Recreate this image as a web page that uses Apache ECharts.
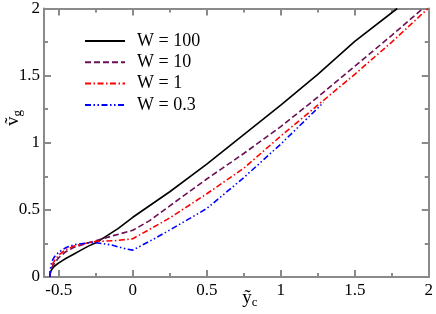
<!DOCTYPE html>
<html>
<head>
<meta charset="utf-8">
<script src="https://cdn.jsdelivr.net/npm/echarts@6/dist/echarts.min.js"></script>
<style>
html,body{margin:0;padding:0;background:#fff;}
#c{width:436px;height:314px;}
</style>
</head>
<body>
<div id="c"></div>
<script>
// ---- data ----
const seriesNames = ['W = 100', 'W = 10', 'W = 1', 'W = 0.3'];

const x100 = [-0.56, -0.559, -0.557, -0.553, -0.545, -0.53, -0.5, -0.45, -0.4, -0.35, -0.3, -0.25, -0.2, -0.1, 0, 0.25, 0.5, 0.75, 1.0, 1.25, 1.5, 1.787];
const y100 = [0, 0.015, 0.03, 0.045, 0.06, 0.08, 0.105, 0.14, 0.17, 0.2, 0.23, 0.255, 0.29, 0.36, 0.445, 0.635, 0.84, 1.06, 1.28, 1.51, 1.755, 2.0];

const x10 = [-0.56, -0.559, -0.557, -0.55, -0.54, -0.53, -0.5, -0.45, -0.4, -0.3, -0.25, -0.125, 0, 0.114, 0.25, 0.5, 0.75, 1.0, 1.25, 1.5, 1.75, 1.96];
const y10 = [0, 0.02, 0.04, 0.065, 0.085, 0.1, 0.145, 0.19, 0.22, 0.255, 0.27, 0.31, 0.348, 0.42, 0.53, 0.73, 0.92, 1.12, 1.34, 1.57, 1.80, 2.0];

const x1 = [-0.56, -0.559, -0.557, -0.55, -0.54, -0.53, -0.5, -0.45, -0.4, -0.3, -0.25, -0.125, 0, 0.114, 0.25, 0.5, 0.75, 1.0, 1.25, 1.5, 1.75, 1.995];
const y1 = [0, 0.025, 0.05, 0.075, 0.1, 0.12, 0.165, 0.205, 0.23, 0.255, 0.265, 0.27, 0.285, 0.355, 0.44, 0.62, 0.81, 1.05, 1.28, 1.51, 1.75, 2.0];

const x03 = [-0.56, -0.559, -0.557, -0.553, -0.545, -0.53, -0.5, -0.45, -0.4, -0.3, -0.25, -0.15, -0.05, 0, 0.148, 0.25, 0.5, 0.75, 1.0, 1.289];
const y03 = [0, 0.03, 0.055, 0.09, 0.12, 0.15, 0.185, 0.22, 0.24, 0.255, 0.255, 0.24, 0.21, 0.2, 0.287, 0.35, 0.51, 0.74, 0.99, 1.30];

const xMajorTicks = [-0.5, 0, 0.5, 1, 1.5, 2];
const xMinorTicks = [-0.25, 0.25, 0.75, 1.25, 1.75];

// ---- chart ----
const FONT = 'Liberation Serif';
const AX = '#8a8a8a';
const pairs = (xs, ys) => xs.map((x, i) => [x, ys[i]]);

function xAx(pos, major) {
  return {
    type: 'value', position: pos, min: -0.6, max: 2,
    axisLine: { show: major, onZero: false, lineStyle: { color: AX, width: 2 } },
    axisTick: { show: true, inside: true, length: major ? 7 : 4,
      customValues: major ? xMajorTicks : xMinorTicks,
      lineStyle: { color: AX, width: 2 } },
    axisLabel: { show: major && pos === 'bottom', customValues: xMajorTicks,
      fontFamily: FONT, fontSize: 17, color: '#000', margin: 5 },
    splitLine: { show: false }
  };
}
function yAx(pos) {
  return {
    type: 'value', position: pos, min: 0, max: 2, interval: 0.5,
    axisLine: { show: true, onZero: false, lineStyle: { color: AX, width: 2 } },
    axisTick: { show: true, inside: true, length: 7, lineStyle: { color: AX, width: 2 } },
    minorTick: { show: true, splitNumber: 2, length: 4, lineStyle: { color: AX, width: 2 } },
    axisLabel: { show: pos === 'left', fontFamily: FONT, fontSize: 17, color: '#000', margin: 4 },
    splitLine: { show: false }
  };
}

const chart = echarts.init(document.getElementById('c'), null, { renderer: 'canvas' });
chart.setOption({
  animation: false,
  backgroundColor: '#fff',
  grid: { left: 44, right: 5, top: 6, bottom: 37, containLabel: false },
  xAxis: [xAx('bottom', true), xAx('bottom', false), xAx('top', true), xAx('top', false)],
  yAxis: [yAx('left'), yAx('right')],
  legend: {
    orient: 'vertical', left: 84, top: 32, padding: 0, itemWidth: 40, itemHeight: 12, itemGap: 3.3,
    itemStyle: { opacity: 0 },
    textStyle: { fontFamily: FONT, fontSize: 18, lineHeight: 18, color: '#000', padding: [0, 0, 0, 7] },
    data: seriesNames
  },
  graphic: [
    { type: 'text', x: 250, y: 298,
      style: { text: '{a|ỹ}{b|c}', align: 'center', verticalAlign: 'middle',
        rich: { a: { fontFamily: FONT, fontSize: 19, fill: '#000' },
                b: { fontFamily: FONT, fontSize: 13, fill: '#000', padding: [9, 0, 0, 0] } } } },
    { type: 'text', x: 13, y: 118, rotation: Math.PI / 2,
      style: { text: '{a|ṽ}{b|g}', align: 'center', verticalAlign: 'middle',
        rich: { a: { fontFamily: FONT, fontSize: 19, fill: '#000' },
                b: { fontFamily: FONT, fontSize: 13, fill: '#000', padding: [9, 0, 0, 0] } } } }
  ],
  series: [
    { name: seriesNames[0], type: 'line', data: pairs(x100, y100), symbol: 'none',
      lineStyle: { color: '#000', width: 1.6, type: 'solid' }, itemStyle: { color: '#000' } },
    { name: seriesNames[1], type: 'line', data: pairs(x10, y10), symbol: 'none',
      lineStyle: { color: '#6b0f55', width: 1.6, type: [6, 3] }, itemStyle: { color: '#6b0f55' } },
    { name: seriesNames[2], type: 'line', data: pairs(x1, y1), symbol: 'none',
      lineStyle: { color: '#ff0000', width: 1.6, type: [6, 2.5, 1.5, 2.5] }, itemStyle: { color: '#ff0000' } },
    { name: seriesNames[3], type: 'line', data: pairs(x03, y03), symbol: 'none',
      lineStyle: { color: '#0000ff', width: 1.6, type: [6, 2.5, 1.5, 2.5, 1.5, 2.5] }, itemStyle: { color: '#0000ff' } }
  ]
});
</script>
</body>
</html>
